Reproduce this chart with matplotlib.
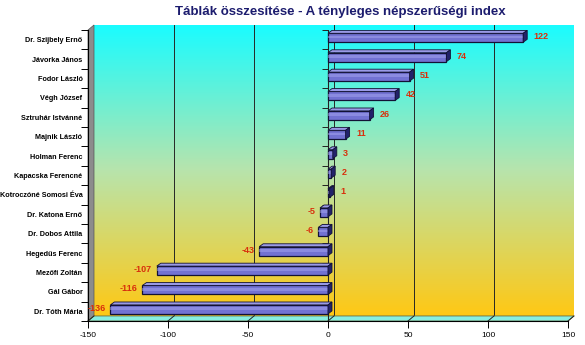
import matplotlib

matplotlib.use("Agg")

import matplotlib.pyplot as plt
import numpy as np
from matplotlib.colors import LinearSegmentedColormap
from matplotlib.patches import Polygon

# Data (top to bottom)
names = [
    "Dr. Szijbely Ernő",
    "Jávorka János",
    "Fodor László",
    "Végh József",
    "Sztruhár Istvánné",
    "Majnik László",
    "Holman Ferenc",
    "Kapacska Ferencné",
    "Kotroczóné Somosi Éva",
    "Dr. Katona Ernő",
    "Dr. Dobos Attila",
    "Hegedűs Ferenc",
    "Mezőfi Zoltán",
    "Gál Gábor",
    "Dr. Tóth Mária",
]
scores = [122, 74, 51, 42, 26, 11, 3, 2, 1, -5, -6, -43, -107, -116, -136]
x_ticks = [-150, -100, -50, 0, 50, 100, 150]
title = "Táblák összesítése - A tényleges népszerűségi index"

# Palette
BAR_COLOR = "#7272d2"
BAR_TOP = "#9a9ae6"
BAR_SIDE = "#22226a"
BAR_EDGE = "#121235"
LABEL_COLOR = "#d8300c"
TITLE_COLOR = "#1c1c6e"
GRID_COLOR = "#262626"
FLOOR_COLOR = "#86eee0"
SIDE_WALL = "#8c8c8c"

plt.rcParams["font.family"] = ["Liberation Sans", "DejaVu Sans"]
NARROW = ["DejaVu Sans Condensed", "Liberation Sans", "DejaVu Sans"]

n = len(names)
xmin, xmax = x_ticks[0], x_ticks[-1]
# wall depth in data units (about 6 px right, 5 px up)
DX, DY = 3.75, 0.26
# bar depth
BDX, BDY = 2.5, 0.15
BAR_H = 0.46
BAR_SHIFT = -0.1

fig = plt.figure(figsize=(5.85, 3.45), dpi=100)
ax = fig.add_axes([88 / 585, 24 / 345, 480 / 585, 291 / 345])

# back wall gradient
cmap = LinearSegmentedColormap.from_list(
    "wall", [(0.0, "#1afcff"), (0.5, "#b8e4ac"), (1.0, "#ffc814")]
)
grad = np.linspace(0, 1, 256).reshape(-1, 1)
ax.imshow(
    grad,
    cmap=cmap,
    aspect="auto",
    origin="upper",
    extent=(xmin + DX, xmax + DX, n - 0.5 - DY, -0.5 - DY),
    zorder=0,
    clip_on=False,
    interpolation="bilinear",
)

# back wall grid lines + floor lines
for t in x_ticks:
    if xmin < t < xmax:
        ax.plot([t + DX, t + DX], [-0.5 - DY, n - 0.5 - DY], color=GRID_COLOR,
                lw=0.7, zorder=0.5, clip_on=False)
    ax.plot([t, t + DX], [n - 0.5, n - 0.5 - DY], color=GRID_COLOR, lw=0.7,
            zorder=1.2, clip_on=False)

# left side wall and floor
ax.add_patch(Polygon(
    [(xmin, -0.5), (xmin + DX, -0.5 - DY), (xmin + DX, n - 0.5 - DY), (xmin, n - 0.5)],
    closed=True, facecolor=SIDE_WALL, edgecolor="#555555", lw=0.5, zorder=1, clip_on=False,
))
ax.add_patch(Polygon(
    [(xmin, n - 0.5), (xmax, n - 0.5), (xmax + DX, n - 0.5 - DY), (xmin + DX, n - 0.5 - DY)],
    closed=True, facecolor=FLOOR_COLOR, edgecolor="#6a6a40", lw=0.6, zorder=1, clip_on=False,
))

# zero axis with boundary ticks
ax.plot([0, 0], [-0.5, n - 0.5], color="#222222", lw=0.8, zorder=2)
ax.hlines(np.arange(-0.5, n), -3.8, 0, color="#222222", lw=0.7, zorder=2)

# bars
ys = np.arange(n) + BAR_SHIFT
ax.barh(ys, scores, height=BAR_H, left=0, color=BAR_COLOR, edgecolor=BAR_EDGE,
        lw=0.9, zorder=3)
ax.barh(ys - 0.04, scores, height=BAR_H * 0.3, left=0, color="#a4a4ee",
        lw=0, alpha=0.5, zorder=3.1)
for y, v in zip(ys, scores):
    x0, x1 = min(0, v), max(0, v)
    top = y - BAR_H / 2
    bot = y + BAR_H / 2
    ax.add_patch(Polygon(
        [(x0, top), (x1, top), (x1 + BDX, top - BDY), (x0 + BDX, top - BDY)],
        closed=True, facecolor=BAR_TOP, edgecolor=BAR_EDGE, lw=0.6, zorder=3.3,
    ))
    ax.add_patch(Polygon(
        [(x1, top), (x1 + BDX, top - BDY), (x1 + BDX, bot - BDY), (x1, bot)],
        closed=True, facecolor=BAR_SIDE, edgecolor=BAR_EDGE, lw=0.6, zorder=3.4,
    ))
    if v >= 0:
        ax.text(v + BDX + 4, y - 0.05, str(v), ha="left", va="center",
                fontsize=6.5, fontweight="bold", color=LABEL_COLOR, zorder=5)
    else:
        ax.text(v - 3, y - 0.05, str(v), ha="right", va="center",
                fontsize=6.5, fontweight="bold", color=LABEL_COLOR, zorder=5)

ax.set_xlim(xmin, xmax)
ax.set_ylim(n - 0.5, -0.5)
ax.set_xticks(x_ticks)
ax.set_xticklabels([str(t) for t in x_ticks], fontsize=6)
ax.set_yticks(np.arange(n))
ax.set_yticklabels(names, fontsize=5.2, fontweight="bold", family=NARROW)
ax.set_yticks(np.arange(-0.5, n), minor=True)
ax.tick_params(axis="y", which="major", length=0, pad=4)
ax.tick_params(axis="y", which="minor", length=5, width=0.7, direction="out")
ax.tick_params(axis="x", length=5, width=0.7, direction="out", pad=3)
for side in ("top", "right"):
    ax.spines[side].set_visible(False)
ax.spines["left"].set_linewidth(0.8)
ax.spines["bottom"].set_linewidth(0.8)
ax.spines["left"].set_zorder(2)
ax.spines["bottom"].set_zorder(2)
ax.set_facecolor("none")

fig.text(340 / 585, 1 - 12 / 345, title, ha="center", va="center",
         fontsize=9.5, fontweight="bold", color=TITLE_COLOR)

fig.savefig("out.png", dpi=100)
